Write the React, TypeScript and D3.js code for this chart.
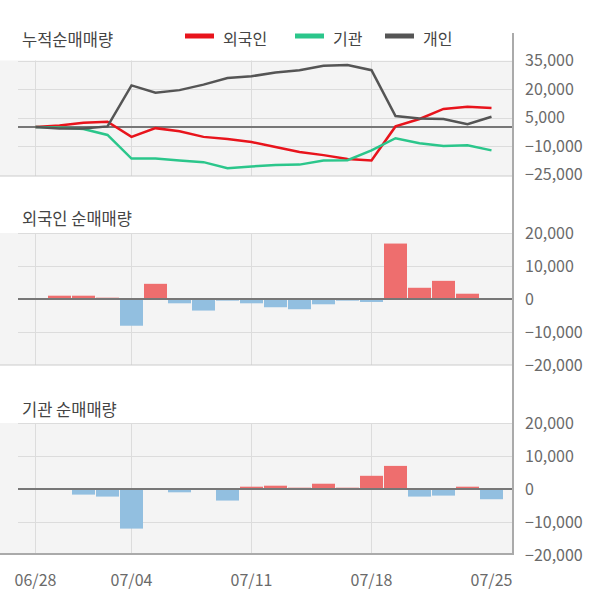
import React from "react";
import * as d3 from "d3";

const dates = ["06/28","06/29","07/02","07/03","07/04","07/05","07/06","07/09","07/10","07/11","07/12","07/13","07/16","07/17","07/18","07/19","07/20","07/23","07/24","07/25"];
const tickDates = ["06/28","07/04","07/11","07/18","07/25"];
const gridDates = ["06/28","07/04","07/11","07/18"];

const foreignCum = [0, 800, 2200, 2800, -5200, -600, -2200, -5200, -6300, -7900, -10500, -13200, -14800, -16800, -17600, 300, 4200, 9500, 10700, 10000];
const instCum = [0, -200, -1100, -4200, -16600, -16600, -17600, -18500, -21700, -20800, -20000, -19800, -17600, -17500, -12300, -5900, -8600, -10000, -9600, -12300];
const indivCum = [0, -800, -800, 300, 21900, 18000, 19400, 22300, 25800, 26700, 28700, 29900, 32200, 32600, 29900, 5800, 4500, 4200, 1500, 5400];

const foreignBars = [0, 1000, 1000, 400, -8100, 4600, -1300, -3500, -500, -1300, -2500, -3100, -1600, -500, -900, 16800, 3400, 5500, 1600, 0];
const instBars = [0, 0, -1700, -2300, -12000, 0, -1000, 0, -3500, 700, 1000, 400, 1600, 400, 4000, 7000, -2300, -2000, 700, -3100];

const cumTicks = [35000, 20000, 5000, -10000, -25000];
const barTicks = [20000, 10000, 0, -10000, -20000];

const series = [
  { name: "외국인", values: foreignCum, color: "#e8141c" },
  { name: "기관", values: instCum, color: "#2bc68b" },
  { name: "개인", values: indivCum, color: "#555555" },
];

const FONT = "'Noto Sans CJK KR', 'Noto Sans', sans-serif";
const W = 600, H = 604;
const PL = 0, PR = 513, GL = 18;

const fmt = d3.format(",");

export default function App() {
  const x = d3.scalePoint<string>().domain(dates).range([35.5, 491.5]);
  const bw = 23;

  const y1 = d3.scaleLinear().domain([-25000, 35000]).range([174.5, 60.5]);
  const y2 = d3.scaleLinear().domain([-20000, 20000]).range([365, 233]);
  const y3 = d3.scaleLinear().domain([-20000, 20000]).range([555, 423]);

  const line = (vals: number[]) =>
    d3.line<number>().x((_, i) => x(dates[i]) as number).y((v) => y1(v))(vals) as string;

  const panel = (top: number, bottom: number, y: d3.ScaleLinear<number, number>, ticks: number[], key: string, lastBottomColor: string, lastBottomWidth: number) => (
    <g key={key}>
      <rect x={PL} y={top} width={PR - PL} height={bottom - top} fill="#f4f4f4" />
      {ticks.slice(0, -1).map((t) => (
        <line key={t} x1={GL} x2={PR} y1={Math.round(y(t)) + 0.5} y2={Math.round(y(t)) + 0.5} stroke="#dcdcdc" strokeWidth={1} />
      ))}
      {gridDates.map((d) => (
        <line key={d} x1={(x(d) as number)} x2={(x(d) as number)} y1={top} y2={bottom} stroke="#dcdcdc" strokeWidth={1} />
      ))}
      <line x1={PL} x2={PR} y1={bottom} y2={bottom} stroke={lastBottomColor} strokeWidth={lastBottomWidth} />
      {ticks.map((t) => (
        <text key={"l" + t} x={525} y={y(t)} dy="0.35em" fontSize={16} fill="#6a6a6a" fontFamily={FONT}>{fmt(t)}</text>
      ))}
    </g>
  );

  const bars = (vals: number[], y: d3.ScaleLinear<number, number>, key: string) => (
    <g key={key}>
      {vals.map((v, i) =>
        v === 0 ? null : (
          <rect key={i} x={(x(dates[i]) as number) - bw / 2} width={bw}
            y={v > 0 ? y(v) : y(0)} height={Math.abs(y(v) - y(0))}
            fill={v > 0 ? "#ee6e6e" : "#92bfe0"} />
        )
      )}
      <line x1={GL} x2={PR} y1={y(0)} y2={y(0)} stroke="#777" strokeWidth={2} />
    </g>
  );

  const legendX = [185, 295, 385];

  return (
    <svg width={W} height={H} style={{ position: "absolute", left: 0, top: 0, background: "#fff" }}>
      <text x={22} y={46} fontSize={16.5} fill="#444" fontFamily={FONT}>누적순매매량</text>
      <text x={22} y={225} fontSize={16.5} fill="#444" fontFamily={FONT}>외국인 순매매량</text>
      <text x={22} y={416} fontSize={16.5} fill="#444" fontFamily={FONT}>기관 순매매량</text>

      {series.map((s, i) => (
        <g key={s.name}>
          <line x1={legendX[i]} x2={legendX[i] + 29} y1={36} y2={36} stroke={s.color} strokeWidth={5} />
          <text x={legendX[i] + 38} y={45} fontSize={16} fill="#444" fontFamily={FONT}>{s.name}</text>
        </g>
      ))}

      {panel(60.5, 176, y1, cumTicks, "p1", "#cccccc", 1)}
      {panel(233, 365, y2, barTicks, "p2", "#cccccc", 1)}
      {panel(423, 554, y3, barTicks, "p3", "#aaaaaa", 2)}

      <line x1={GL} x2={PR} y1={y1(0)} y2={y1(0)} stroke="#777" strokeWidth={2} />
      {series.map((s) => (
        <path key={s.name} d={line(s.values)} fill="none" stroke={s.color} strokeWidth={2.5} />
      ))}

      {bars(foreignBars, y2, "b2")}
      {bars(instBars, y3, "b3")}

      <line x1={513} x2={513} y1={33} y2={555} stroke="#aaaaaa" strokeWidth={2} />

      {tickDates.map((d) => (
        <text key={d} x={x(d) as number} y={586} textAnchor="middle" fontSize={16} fill="#6a6a6a" fontFamily={FONT}>{d}</text>
      ))}
    </svg>
  );
}
